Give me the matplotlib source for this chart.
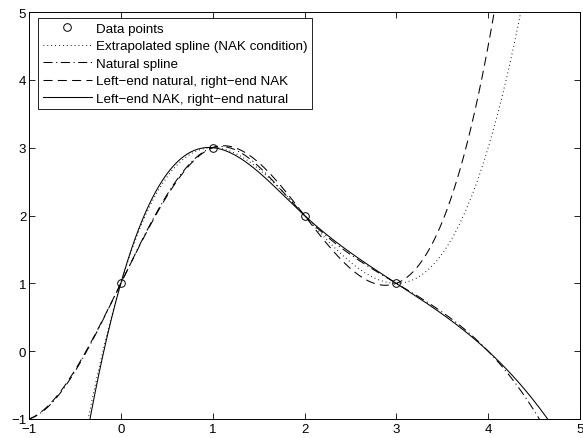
import numpy as np
import matplotlib
matplotlib.use("Agg")
import matplotlib.pyplot as plt

# data points
x_data = [0, 1, 2, 3]
y_data = [1, 3, 2, 1]

# end conditions (left, right) for each curve, with dash pattern in points
curves = [
    ("Extrapolated spline (NAK condition)", "notaknot", "notaknot", (0, (0.6, 2.2))),
    ("Natural spline", "natural", "natural", (0, (6.5, 2.6, 0.8, 2.6))),
    ("Left\u2212end natural, right\u2212end NAK", "natural", "notaknot", (0, (6.5, 3.8))),
    ("Left\u2212end NAK, right\u2212end natural", "notaknot", "natural", "-"),
]

x_ticks = [-1, 0, 1, 2, 3, 4, 5]
y_ticks = [-1, 0, 1, 2, 3, 4, 5]


def spline_moments(x, y, left, right):
    # second derivatives M_i of the cubic spline
    x = np.asarray(x, float)
    y = np.asarray(y, float)
    n = len(x)
    h = np.diff(x)
    A = np.zeros((n, n))
    b = np.zeros(n)
    for i in range(1, n - 1):
        A[i, i - 1] = h[i - 1]
        A[i, i] = 2 * (h[i - 1] + h[i])
        A[i, i + 1] = h[i]
        b[i] = 6 * ((y[i + 1] - y[i]) / h[i] - (y[i] - y[i - 1]) / h[i - 1])
    if left == "natural":
        A[0, 0] = 1
    else:
        A[0, 0] = -1 / h[0]
        A[0, 1] = 1 / h[0] + 1 / h[1]
        A[0, 2] = -1 / h[1]
    if right == "natural":
        A[-1, -1] = 1
    else:
        A[-1, -3] = -1 / h[-2]
        A[-1, -2] = 1 / h[-2] + 1 / h[-1]
        A[-1, -1] = -1 / h[-1]
    return np.linalg.solve(A, b)


def spline_eval(x, y, M, t):
    x = np.asarray(x, float)
    y = np.asarray(y, float)
    i = np.clip(np.searchsorted(x, t) - 1, 0, len(x) - 2)
    h = x[i + 1] - x[i]
    a = x[i + 1] - t
    c = t - x[i]
    return (M[i] * a ** 3 / (6 * h) + M[i + 1] * c ** 3 / (6 * h)
            + (y[i] / h - M[i] * h / 6) * a + (y[i + 1] / h - M[i + 1] * h / 6) * c)


plt.rcParams['font.family'] = ['Liberation Sans', 'DejaVu Sans']
plt.rcParams['font.size'] = 9.6
plt.rcParams['lines.scale_dashes'] = False

fig = plt.figure(figsize=(5.83, 4.39), dpi=100)
ax = fig.add_axes([29 / 583, 19 / 439, 551 / 583, 407 / 439])

tt = np.linspace(-1, 5, 1201)
ax.plot(x_data, y_data, 'o', mfc='none', mec='black', ms=5.5, mew=0.7,
        label="Data points")
for label, left, right, ls in curves:
    M = spline_moments(x_data, y_data, left, right)
    ax.plot(tt, spline_eval(x_data, y_data, M, tt), color='black', ls=ls,
            lw=0.75, label=label)

ax.set_xlim(-1, 5)
ax.set_ylim(-1, 5)
ax.set_xticks(x_ticks)
ax.set_yticks(y_ticks)
ax.set_xticklabels([str(v).replace('-', '\u2212') for v in x_ticks])
ax.set_yticklabels([str(v).replace('-', '\u2212') for v in y_ticks])
ax.tick_params(direction='in', top=True, right=True, length=4, width=0.6,
               labelsize=9.5)
ax.tick_params(axis='x', pad=3)
ax.tick_params(axis='y', pad=2)
for s in ax.spines.values():
    s.set_linewidth(0.7)

leg = ax.legend(loc='upper left', bbox_to_anchor=(9 / 551, 1 - 6 / 407),
                borderaxespad=0, fancybox=False, framealpha=1,
                edgecolor='black', handlelength=3.7, handletextpad=0.3,
                labelspacing=0.38, borderpad=0.35, fontsize=9.6)
leg.get_frame().set_linewidth(0.6)

fig.savefig("out.png", dpi=100)
